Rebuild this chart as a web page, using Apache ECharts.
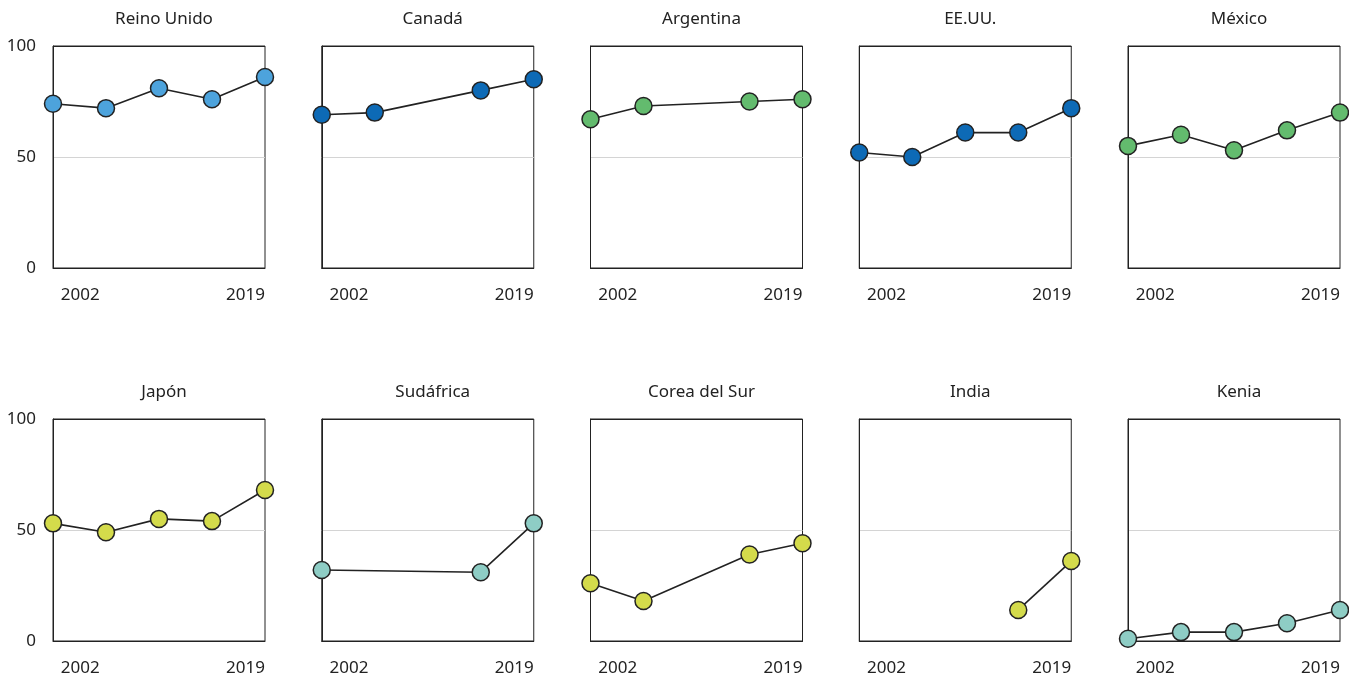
<!DOCTYPE html>
<html>
<head>
<meta charset="utf-8">
<script src="https://cdn.jsdelivr.net/npm/echarts@6/dist/echarts.min.js"></script>
<style>
html,body{margin:0;padding:0;background:#fff;}
#main{width:1349px;height:681px;}
</style>
</head>
<body>
<div id="main"></div>
<script>
// ---- data ----
var countries = ['Reino Unido','Canadá','Argentina','EE.UU.','México','Japón','Sudáfrica','Corea del Sur','India','Kenia'];
var surveyWaves = ['w1','w2','w3','w4','w5'];
var xTickLabels = [2002, 2019];
var yTicks = [0, 50, 100];
var reinoUnido = [74, 72, 81, 76, 86];
var canada     = [69, 70, null, 80, 85];
var argentina  = [67, 73, null, 75, 76];
var eeuu       = [52, 50, 61, 61, 72];
var mexico     = [55, 60, 53, 62, 70];
var japon      = [53, 49, 55, 54, 68];
var sudafrica  = [32, null, null, 31, 53];
var coreaSur   = [26, 18, null, 39, 44];
var india      = [null, null, null, 14, 36];
var kenia      = [1, 4, 4, 8, 14];
var seriesValues = [reinoUnido, canada, argentina, eeuu, mexico, japon, sudafrica, coreaSur, india, kenia];

// ---- styles ----
var palette = ['#4da3dc','#0d6ab6','#63bb6e','#0d6ab6','#63bb6e','#d4db4b','#8ecdc5','#d4db4b','#d4db4b','#8ecdc5'];
var FONT = 'Noto Sans';
var FS = 17;
var textColor = '#222';
var colLeft0 = 53, colStep = 268.75, plotW = 212, plotH = 222;
var rowTop = [46, 419];

var grids = [], xAxes = [], yAxes = [], series = [], titles = [];
countries.forEach(function (name, i) {
  var col = i % 5, row = Math.floor(i / 5);
  var left = colLeft0 + col * colStep;
  var top = rowTop[row];
  grids.push({ left: left, top: top, width: plotW, height: plotH, show: true,
    borderColor: '#222', borderWidth: 1, backgroundColor: 'transparent' });
  titles.push({ text: name, left: left + plotW / 2, top: top - 40, textAlign: 'center',
    textStyle: { fontFamily: FONT, fontSize: FS, fontWeight: 'normal', color: textColor } });
  // category axis for the data
  xAxes.push({ type: 'category', gridIndex: i, data: surveyWaves, boundaryGap: false,
    axisLine: { show: true, lineStyle: { color: '#222', width: 1 } },
    axisTick: { show: false }, axisLabel: { show: false }, splitLine: { show: false } });
  // year label axis
  xAxes.push({ type: 'value', gridIndex: i, min: 1999.2, max: 2021, position: 'bottom',
    axisLine: { show: false }, axisTick: { show: false }, splitLine: { show: false },
    axisLabel: { show: true, customValues: xTickLabels, margin: 19, formatter: function (v) { return String(v); },
      fontFamily: FONT, fontSize: FS, color: textColor } });
  yAxes.push({ type: 'value', gridIndex: i, min: 0, max: 100, interval: 50,
    axisLine: { show: true, lineStyle: { color: '#222', width: 1 } },
    axisTick: { show: false },
    axisLabel: { show: col === 0, margin: 17, fontFamily: FONT, fontSize: FS, color: textColor,
      formatter: function (v) { return yTicks.indexOf(v) >= 0 ? String(v) : ''; } },
    splitLine: { show: true, lineStyle: { color: ['#222', '#d4d4d4', '#222'], width: 1.2 } } });
  series.push({ type: 'line', xAxisIndex: i * 2, yAxisIndex: i, data: seriesValues[i],
    connectNulls: true, clip: false, symbol: 'circle', symbolSize: 17,
    lineStyle: { color: '#222', width: 1.6 },
    itemStyle: { color: palette[i], borderColor: '#222', borderWidth: 1.5 },
    emphasis: { disabled: true }, z: 5 });
});

var chart = echarts.init(document.getElementById('main'), null, { renderer: 'canvas' });
chart.setOption({
  animation: false,
  backgroundColor: '#fff',
  title: titles,
  grid: grids,
  xAxis: xAxes,
  yAxis: yAxes,
  series: series
});
</script>
</body>
</html>
